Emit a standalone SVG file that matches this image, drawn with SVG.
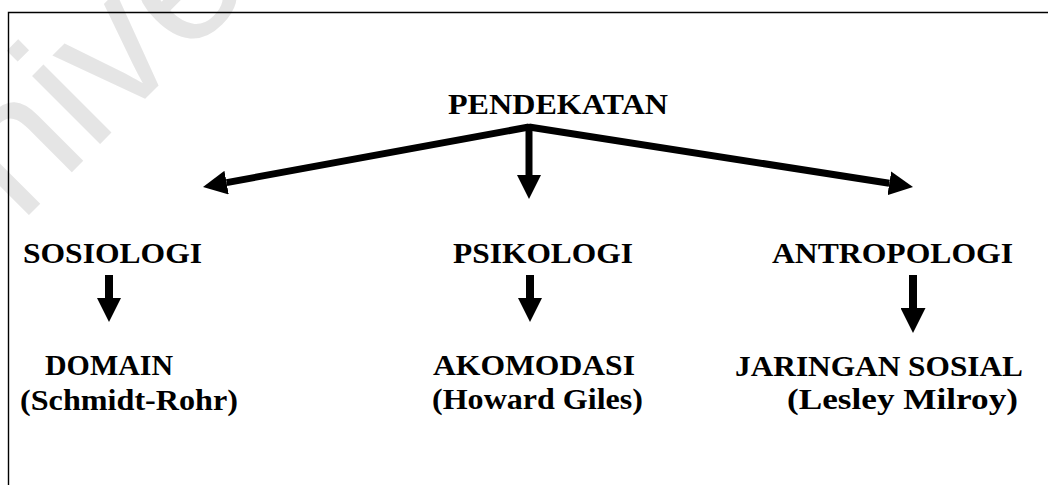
<svg xmlns="http://www.w3.org/2000/svg" width="1048" height="485" viewBox="0 0 1048 485">
  <style>
    .lbl { font-family: "Liberation Serif", "Times New Roman", serif; font-weight: bold; font-size: 30px; fill: #000; }
    .wm { font-family: "Liberation Sans", Arial, sans-serif; font-size: 182px; fill: #e5e5e5; }
    .shaft { stroke: #000; stroke-width: 7; fill: none; }
    .shaft-s { stroke: #000; stroke-width: 8; fill: none; }
    .frame { stroke: #000; stroke-width: 1.4; fill: none; }
  </style>
  <defs>
    <marker id="head" viewBox="0 0 24 24" refX="0" refY="12" markerWidth="24" markerHeight="24" markerUnits="userSpaceOnUse" orient="auto">
      <path d="M0,0 L24,12 L0,24 Z" fill="#000"/>
    </marker>
    <marker id="head-l" viewBox="0 0 25 25" refX="0" refY="12.5" markerWidth="25" markerHeight="25" markerUnits="userSpaceOnUse" orient="auto">
      <path d="M0,0 L25,12.5 L0,25 Z" fill="#000"/>
    </marker>
  </defs>

  <rect width="1048" height="485" fill="#fff"/>

  <!-- background watermark -->
  <text class="wm" transform="translate(-73,317) rotate(-45)">Universiti Malaya</text>

  <!-- page frame -->
  <path class="frame" d="M8.5,485 V12.5 H1048"/>

  <g id="connectors">
    <line class="shaft" x1="529" y1="127" x2="226.6" y2="182.6" marker-end="url(#head)"/>
    <line class="shaft" x1="529" y1="124" x2="529" y2="175" marker-end="url(#head)"/>
    <line class="shaft" x1="529" y1="127" x2="889.3" y2="183.3" marker-end="url(#head)"/>
    <line class="shaft-s" x1="109" y1="275" x2="109" y2="298" marker-end="url(#head)"/>
    <line class="shaft-s" x1="530" y1="275" x2="530" y2="298" marker-end="url(#head)"/>
    <line class="shaft-s" x1="913" y1="275" x2="913" y2="308" marker-end="url(#head-l)"/>
  </g>

  <g id="pendekatan">
    <text class="lbl" x="448" y="114" textLength="220" lengthAdjust="spacingAndGlyphs">PENDEKATAN</text>
  </g>
  <g id="sosiologi">
    <text class="lbl" x="23" y="263" textLength="179" lengthAdjust="spacingAndGlyphs">SOSIOLOGI</text>
  </g>
  <g id="psikologi">
    <text class="lbl" x="453" y="263" textLength="180" lengthAdjust="spacingAndGlyphs">PSIKOLOGI</text>
  </g>
  <g id="antropologi">
    <text class="lbl" x="772" y="263" textLength="241" lengthAdjust="spacingAndGlyphs">ANTROPOLOGI</text>
  </g>
  <g id="domain">
    <text class="lbl" x="45" y="375" textLength="128" lengthAdjust="spacingAndGlyphs">DOMAIN</text>
    <text class="lbl" x="20" y="410" textLength="218" lengthAdjust="spacingAndGlyphs">(Schmidt-Rohr)</text>
  </g>
  <g id="akomodasi">
    <text class="lbl" x="433" y="375" textLength="202" lengthAdjust="spacingAndGlyphs">AKOMODASI</text>
    <text class="lbl" x="432" y="409" textLength="211" lengthAdjust="spacingAndGlyphs">(Howard Giles)</text>
  </g>
  <g id="jaringan-sosial">
    <text class="lbl" x="735" y="376" textLength="288" lengthAdjust="spacingAndGlyphs">JARINGAN SOSIAL</text>
    <text class="lbl" x="787" y="409" textLength="231" lengthAdjust="spacingAndGlyphs">(Lesley Milroy)</text>
  </g>
</svg>
